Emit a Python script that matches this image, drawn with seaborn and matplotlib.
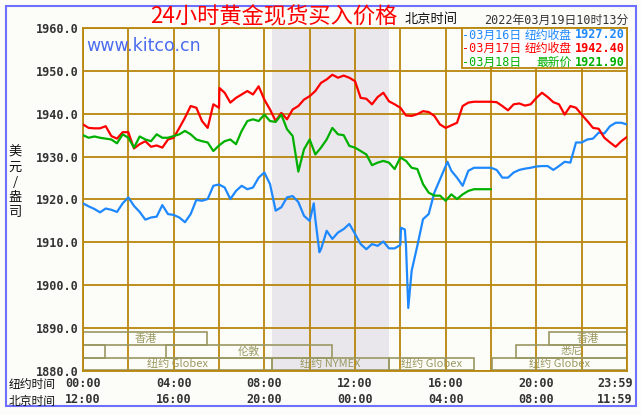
import matplotlib
matplotlib.use('Agg')
import matplotlib.pyplot as plt
from matplotlib.patches import Rectangle
from matplotlib.transforms import ScaledTranslation
import seaborn as sns
import pandas as pd

# quarter-hour readings, New York time 00:00 -> 23:59
blue_vals = [1919.1, 1918.4, 1917.8, 1917.0, 1917.9, 1917.6, 1917.1, 1919.1, 1920.5, 1918.5,
             1917.1, 1915.3, 1915.8, 1916.0, 1918.7, 1916.6, 1916.4, 1915.8, 1914.7, 1916.6,
             1919.9, 1919.7, 1920.1, 1923.2, 1923.5,
             1922.8, 1920.1, 1922.0, 1923.2, 1922.4, 1922.8, 1925.1, 1926.3, 1923.6, 1917.4,
             1918.2, 1920.5, 1920.8, 1919.4, 1916.2, 1915.0, 1915.4, 1908.4, 1912.7, 1910.8,
             1912.3, 1913.1, 1914.3, 1912.0,
             1909.6, 1908.4, 1909.6, 1909.2, 1910.2, 1908.6, 1908.6, 1909.4, 1909.2, 1903.4,
             1909.2, 1915.4, 1916.6, 1921.6, 1924.7, 1927.8, 1926.7, 1925.1, 1923.2, 1926.7,
             1927.4, 1927.4, 1927.4, 1927.4,
             1926.9, 1925.1, 1925.1, 1926.3, 1926.9, 1927.2, 1927.4, 1927.7, 1927.8, 1927.8,
             1926.9, 1927.8, 1928.8, 1928.6, 1933.3, 1933.3, 1934.0, 1934.2, 1935.6, 1935.4,
             1937.1, 1937.9, 1937.9, 1937.5]
# extra readings at the sharp spikes
blue_extra_h = [10.18, 10.43, 14.03, 14.2, 14.35, 16.08]
blue_extra_v = [1919.1, 1907.7, 1913.4, 1913.0, 1894.7, 1928.8]

red_vals = [1937.5, 1936.7, 1936.6, 1936.6, 1937.1, 1934.8, 1934.2, 1935.7, 1935.7, 1931.9,
            1932.9, 1933.6, 1932.3, 1932.6, 1932.1, 1934.0, 1934.4, 1936.7, 1939.1, 1941.8,
            1941.4, 1938.3, 1936.7, 1942.2, 1941.4,
            1944.9, 1942.6, 1943.7, 1944.5, 1945.3, 1944.5, 1946.4, 1943.3, 1941.0, 1938.3,
            1940.2, 1938.7, 1941.0, 1941.8, 1943.3, 1944.1, 1945.3, 1947.2, 1948.0, 1949.1,
            1948.4, 1948.9, 1948.4, 1947.6,
            1943.7, 1943.5, 1942.2, 1943.9, 1944.9, 1942.9, 1942.2, 1941.4, 1939.6, 1939.5,
            1939.9, 1940.6, 1940.4, 1939.5, 1937.5, 1936.7, 1937.3, 1937.9, 1941.8, 1942.6,
            1942.8, 1942.8, 1942.8, 1942.8,
            1942.7, 1941.8, 1940.8, 1942.2, 1942.4, 1941.9, 1942.2, 1943.7, 1944.9, 1943.9,
            1942.7, 1942.2, 1939.8, 1941.8, 1941.4, 1939.8, 1938.3, 1936.7, 1936.5, 1934.4,
            1933.3, 1932.3, 1933.6, 1934.6]
red_extra_h = [6.02]
red_extra_v = [1946.0]

green_vals = [1935.0, 1934.4, 1934.7, 1934.4, 1934.2, 1934.0, 1933.1, 1935.2, 1934.4, 1932.1,
              1934.7, 1934.0, 1933.6, 1935.2, 1934.4, 1934.4, 1934.8, 1935.2, 1936.0, 1935.2,
              1934.0, 1933.6, 1933.3, 1931.3, 1932.6,
              1933.6, 1934.0, 1932.9, 1936.0, 1938.3, 1938.7, 1938.3, 1939.8, 1938.3, 1938.1,
              1939.8, 1936.4, 1934.8, 1926.5, 1931.7, 1934.0, 1930.5, 1932.1, 1934.0, 1936.7,
              1935.2, 1935.0, 1932.5, 1932.1,
              1931.3, 1930.5, 1928.0, 1928.6, 1929.0, 1928.6, 1927.1, 1929.8, 1929.0, 1927.4,
              1927.1, 1923.6, 1921.6, 1920.9, 1920.9, 1919.7, 1921.2, 1920.1, 1921.2, 1922.0,
              1922.4, 1922.4, 1922.4, 1922.4]

days = ['03月16日', '03月17日', '03月18日']
legend_kind = ['纽约收盘', '纽约收盘', '最新价']
legend_price = ['1927.20', '1942.40', '1921.90']
colors = ['#1e88ff', '#ff0000', '#00b000']

y_ticks = [1880, 1890, 1900, 1910, 1920, 1930, 1940, 1950, 1960]
x_ticks = [0, 4, 8, 12, 16, 20, 24]
ny_labels = ['00:00', '04:00', '08:00', '12:00', '16:00', '20:00', '23:59']
bj_labels = ['12:00', '16:00', '20:00', '00:00', '04:00', '08:00', '11:59']

nymex_span = (8.33, 13.5)
sess_names = ['香港', '香港', '', '伦敦', '悉尼', '纽约 Globex', '纽约 NYMEX', '纽约 Globex', '纽约 Globex']
sess_start = [0, 20.55, 0, 3.64, 19.1, 0, 8.33, 13.5, 18.04]
sess_end = [5.49, 24, 0.99, 11.0, 24, 8.33, 13.5, 17.25, 24]
sess_row = [1, 1, 2, 2, 2, 3, 3, 3, 3]

frames = []
for name, vals, eh, ev in [(days[0], blue_vals, blue_extra_h, blue_extra_v),
                           (days[1], red_vals, red_extra_h, red_extra_v),
                           (days[2], green_vals, [], [])]:
    hours = [i * 0.25 for i in range(len(vals))] + eh
    frames.append(pd.DataFrame({'hour': hours, 'price': vals + ev, 'day': name}))
df = pd.concat(frames).sort_values('hour')

sns.set_style('white')
mono = ['DejaVu Sans Mono', 'Noto Sans CJK SC']
cjk = ['Noto Sans CJK SC', 'DejaVu Sans']
plt.rcParams['font.family'] = cjk

W, H = 641, 415
fig = plt.figure(figsize=(W / 100, H / 100), dpi=100)
bg = '#fcfdf8'
fig.patch.set_facecolor(bg)
ax = fig.add_axes([83 / W, 1 - 371 / H, 544 / W, 343 / H])
ax.set_facecolor(bg)

gold = '#b8860b'
olive = '#9a9862'

ax.axvspan(*nymex_span, color='#e9e7ec', zorder=0, lw=0)

sns.lineplot(data=df, x='hour', y='price', hue='day', palette=colors, estimator=None,
             lw=1.6, legend=False, ax=ax, zorder=3)

ax.set_xlim(0, 24)
ax.set_ylim(1880, 1960)
ax.set_xticks(x_ticks)
ax.set_xticks(range(2, 24, 4), minor=True)
ax.set_xticklabels([a + '\n' + b for a, b in zip(ny_labels, bj_labels)],
                   family='DejaVu Sans Mono', weight='bold', fontsize=8.5,
                   color='#333333', linespacing=1.35)
ax.set_yticks(y_ticks)
ax.set_yticklabels([f'{v:.1f}' for v in y_ticks], family='DejaVu Sans Mono',
                   weight='bold', fontsize=8.5, color='#333333')
ax.tick_params(which='both', length=0)
ax.tick_params(axis='x', pad=4)
ax.tick_params(axis='y', pad=3.5)
ax.grid(True, which='both', color=gold, lw=1.3)
ax.set_axisbelow(True)
ax.set_xlabel('')
ax.set_ylabel('')
for s in ax.spines.values():
    s.set_color(gold)
    s.set_linewidth(1.3)

last = ax.get_xticklabels()[-1]
last.set_transform(last.get_transform() + ScaledTranslation(-0.12, 0, fig.dpi_scale_trans))

# market session boxes
row_bottom = {1: 1886.1, 2: 1883.1, 3: 1880.2}
for name, a, b, r in zip(sess_names, sess_start, sess_end, sess_row):
    ax.add_patch(Rectangle((a, row_bottom[r]), b - a, 2.9, fill=False,
                           edgecolor=olive, lw=1.2, zorder=2))
    if name:
        ax.text((a + b) / 2, row_bottom[r] + 1.45, name, color=olive, fontsize=8,
                ha='center', va='center', zorder=2)

# legend box
ax.add_patch(Rectangle((16.72, 1950.7), 24 - 16.72, 9.3, facecolor='#fefefe',
                       edgecolor=gold, lw=1.3, zorder=5, clip_on=False))


def ftext(x, y, s, **kw):
    fig.text(x / W, 1 - y / H, s, **kw)


for i in range(3):
    y = 35 + i * 13.5
    ftext(462, y, '-' + days[i], color=colors[i], fontsize=8.5, family=mono,
          ha='left', va='center', zorder=6)
    ftext(572, y, legend_kind[i], color=colors[i], fontsize=8.5, ha='right', va='center', zorder=6)
    ftext(625, y, legend_price[i], color=colors[i], fontsize=8.5, family='DejaVu Sans Mono',
          weight='bold', ha='right', va='center', zorder=6)

ftext(274, 17, '24小时黄金现货买入价格', color='#ff0000', fontsize=16, ha='center', va='center')
ftext(405, 20, '北京时间', color='#111111', fontsize=9.5, ha='left', va='center')
ftext(628, 20, '2022年03月19日10时13分', color='#333333', fontsize=8.5, family=mono,
      ha='right', va='center')
ftext(86, 46, 'www.kitco.cn', color='#4b6cf0', fontsize=12.5, family='DejaVu Sans',
      ha='left', va='center')
ftext(15, 182, '美\n元\n/\n盎\n司', color='#111111', fontsize=9.5, ha='center',
      va='center', linespacing=1.2)
ftext(9, 384, '纽约时间', color='#111111', fontsize=8.5, ha='left', va='center')
ftext(9, 401, '北京时间', color='#111111', fontsize=8.5, ha='left', va='center')

fig.add_artist(Rectangle((6 / W, 1 - 406 / H), 630 / W, 400 / H, transform=fig.transFigure,
                         fill=False, edgecolor='#6f6fff', lw=1.5))

fig.savefig('out.png', dpi=100, facecolor=bg)
